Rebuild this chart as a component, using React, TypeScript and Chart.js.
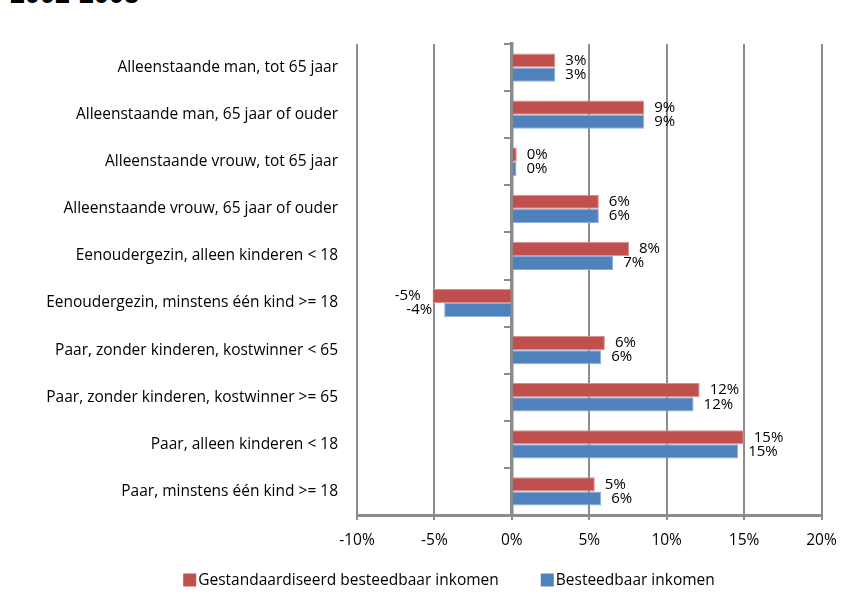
import React, { useEffect, useRef } from "react";
import { Chart, registerables } from "chart.js";

Chart.register(...registerables);

const titleText = "2002-2008";

const categories = [
  "Alleenstaande man, tot 65 jaar",
  "Alleenstaande man, 65 jaar of ouder",
  "Alleenstaande vrouw, tot 65 jaar",
  "Alleenstaande vrouw, 65 jaar of ouder",
  "Eenoudergezin, alleen kinderen < 18",
  "Eenoudergezin, minstens één kind >= 18",
  "Paar, zonder kinderen, kostwinner < 65",
  "Paar, zonder kinderen, kostwinner >= 65",
  "Paar, alleen kinderen < 18",
  "Paar, minstens één kind >= 18",
];

const seriesNames = ["Gestandaardiseerd besteedbaar inkomen", "Besteedbaar inkomen"];

const standardizedIncome = [2.81, 8.55, 0.32, 5.62, 7.57, -5.12, 6.01, 12.13, 14.98, 5.36];
const disposableIncome = [2.81, 8.55, 0.3, 5.62, 6.55, -4.37, 5.77, 11.74, 14.62, 5.77];

const xMin = -10;
const xMax = 20;
const xStep = 5;

const FONT = "'Open Sans', Lato, sans-serif";
const FONT_SIZE = 15.5;
const GRID = "#8C8C8C";

const dataLabelPlugin = {
  id: "dataLabels",
  afterDatasetsDraw(chart: any) {
    const ctx = chart.ctx;
    ctx.save();
    ctx.font = `15px ${FONT}`;
    ctx.fillStyle = "#000";
    ctx.textBaseline = "middle";
    chart.data.datasets.forEach((ds: any, di: number) => {
      const meta = chart.getDatasetMeta(di);
      meta.data.forEach((bar: any, i: number) => {
        const v = ds.data[i] as number;
        const txt = Math.round(v) + "%";
        if (v >= 0) {
          ctx.textAlign = "left";
          ctx.fillText(txt, bar.x + 10, bar.y);
        } else {
          ctx.textAlign = "right";
          ctx.fillText(txt, bar.x - 12, bar.y);
        }
      });
    });
    ctx.restore();
  },
};

const legendPlugin = {
  id: "bottomLegend",
  afterDraw(chart: any) {
    const ctx = chart.ctx;
    ctx.save();
    ctx.font = `${FONT_SIZE}px ${FONT}`;
    const box = 13;
    const boxGap = 2;
    const itemGap = 42;
    const centerX = 449;
    const centerY = 580;
    const items = chart.data.datasets.map((ds: any) => ({
      text: ds.label as string,
      color: ds.backgroundColor as string,
      w: ctx.measureText(ds.label).width,
    }));
    const total =
      items.reduce((s: number, it: any) => s + box + boxGap + it.w, 0) + itemGap * (items.length - 1);
    let x = centerX - total / 2;
    ctx.textBaseline = "middle";
    ctx.textAlign = "left";
    items.forEach((it: any) => {
      ctx.fillStyle = it.color;
      ctx.fillRect(x, centerY - box / 2, box, box);
      ctx.fillStyle = "#000";
      ctx.fillText(it.text, x + box + boxGap, centerY + 1);
      x += box + boxGap + it.w + itemGap;
    });
    ctx.restore();
  },
};

export default function App() {
  const ref = useRef<HTMLCanvasElement | null>(null);

  useEffect(() => {
    if (!ref.current) return;
    const chart = new Chart(ref.current, {
      type: "bar",
      data: {
        labels: categories,
        datasets: [
          {
            label: seriesNames[0],
            data: standardizedIncome,
            backgroundColor: "#C0504D",
            borderColor: "#D6918F",
            borderWidth: 1,
            xAxisID: "x",
            yAxisID: "y",
          },
          {
            label: seriesNames[1],
            data: disposableIncome,
            backgroundColor: "#4F81BD",
            borderColor: "#8FAEDA",
            borderWidth: 1,
            xAxisID: "x",
            yAxisID: "y",
          },
        ],
      },
      options: {
        indexAxis: "y",
        responsive: false,
        animation: false,
        layout: { padding: { top: 44, right: 46.5, left: 0, bottom: 47 } },
        datasets: { bar: { categoryPercentage: 0.6, barPercentage: 1.0 } },
        plugins: {
          tooltip: { enabled: false },
          legend: { display: false },
        },
        scales: {
          x: {
            type: "linear",
            position: "bottom",
            min: xMin,
            max: xMax,
            ticks: {
              stepSize: xStep,
              padding: 11,
              color: "#000",
              font: { family: FONT, size: FONT_SIZE },
              callback: (v: any) => v + "%",
            },
            grid: { color: GRID, lineWidth: 2, tickLength: 5, drawTicks: true },
            border: { display: true, color: GRID, width: 3 },
            afterFit: (s: any) => {
              s.height = 40;
            },
          },
          y: {
            type: "category",
            position: "left",
            grid: { display: false },
            border: { display: false },
            ticks: {
              padding: 11,
              color: "#000",
              font: { family: FONT, size: FONT_SIZE },
            },
            afterFit: (s: any) => {
              s.width = 357;
            },
          },
          y2: {
            type: "category",
            axis: "y",
            labels: categories,
            position: { x: 0 },
            offset: true,
            z: 1,
            grid: {
              offset: true,
              drawOnChartArea: false,
              drawTicks: true,
              tickLength: 6,
              color: GRID,
              lineWidth: 2,
            },
            border: { display: true, color: GRID, width: 3.5 },
            ticks: { display: false },
          },
        } as any,
      },
      plugins: [dataLabelPlugin, legendPlugin],
    } as any);
    return () => chart.destroy();
  }, []);

  return (
    <div style={{ position: "absolute", left: 0, top: 0, width: 868, height: 602, overflow: "hidden", background: "#fff" }}>
      <div
        style={{
          position: "absolute",
          left: 10,
          top: -19,
          font: "bold 27px 'Liberation Sans', Arial, sans-serif",
          lineHeight: "27px",
          color: "#000",
          whiteSpace: "nowrap",
        }}
      >
        {titleText}
      </div>
      <canvas ref={ref} width={868} height={602} style={{ position: "absolute", left: 0, top: 0 }} />
    </div>
  );
}
